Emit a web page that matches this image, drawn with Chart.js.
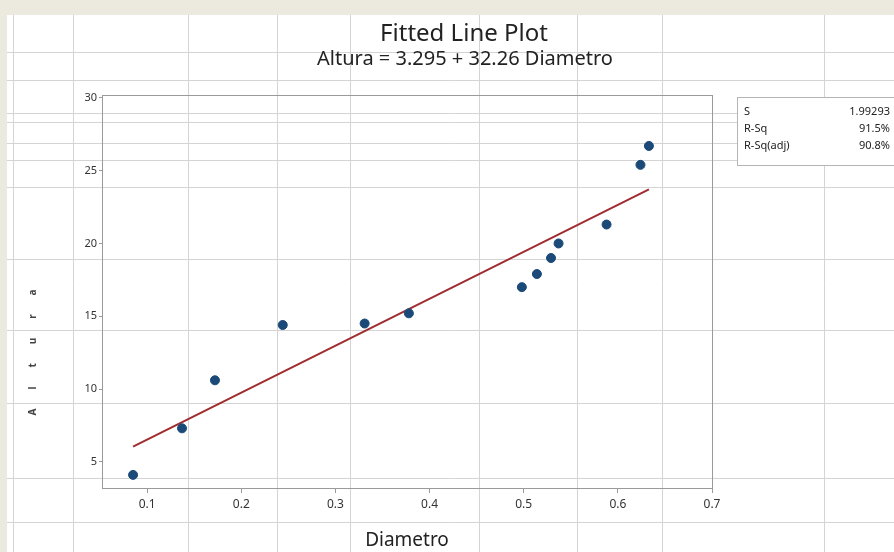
<!DOCTYPE html>
<html>
<head>
<meta charset="utf-8">
<script src="https://cdn.jsdelivr.net/npm/chart.js@4/dist/chart.umd.min.js"></script>
<style>
  html, body { margin: 0; padding: 0; background: #ece9de; }
  #wrap { width: 894px; height: 552px; }
</style>
</head>
<body>
<div id="wrap"><canvas id="fitChart" width="894" height="552"></canvas></div>
<script>
// Datos
const diametro = [0.085, 0.137, 0.172, 0.244, 0.331, 0.378, 0.498, 0.514, 0.529, 0.537, 0.588, 0.624, 0.633];
const altura = [4.1, 7.3, 10.6, 14.4, 14.5, 15.2, 17.0, 17.9, 19.0, 20.0, 21.3, 25.4, 26.7];

// Recta ajustada (extremos leidos)
const fitX = [0.085, 0.633];
const fitY = [6.04, 23.72];

const xTicks = [0.1, 0.2, 0.3, 0.4, 0.5, 0.6, 0.7];
const yTicks = [5, 10, 15, 20, 25, 30];

const statLabels = ['S', 'R-Sq', 'R-Sq(adj)'];
const statValues = ['1.99293', '91.5%', '90.8%'];

const titleText = 'Fitted Line Plot';
const subtitleText = 'Altura = 3.295 + 32.26 Diametro';
const yTitle = 'Altura';

// Lineas de la hoja de calculo de fondo (decoracion)
const sheetCols = [13, 73, 188, 277, 350, 479, 577, 662, 824];
const sheetRows = [52, 80, 113, 122, 143, 160, 187, 259, 330, 403, 478, 522];

const FONT = '"Noto Sans", "Open Sans", sans-serif';

const sheetPlugin = {
    id: 'sheet',
    beforeDraw(chart) {
        const c = chart.ctx;
        c.save();
        c.fillStyle = '#ece9de';
        c.fillRect(0, 0, chart.width, chart.height);
        c.fillStyle = '#ffffff';
        c.fillRect(7, 15, chart.width - 7, chart.height - 15);
        c.strokeStyle = '#d4d4d4';
        c.lineWidth = 1;
        sheetCols.forEach(x => {
            c.beginPath(); c.moveTo(x + 0.5, 15); c.lineTo(x + 0.5, chart.height); c.stroke();
        });
        sheetRows.forEach(y => {
            c.beginPath(); c.moveTo(7, y + 0.5); c.lineTo(chart.width, y + 0.5); c.stroke();
        });
        c.restore();
    },
    afterDraw(chart) {
        const c = chart.ctx;
        const a = chart.chartArea;
        c.save();
        // marco del area de trazado
        c.strokeStyle = '#9a9a9a';
        c.lineWidth = 1;
        c.strokeRect(a.left + 0.5, a.top + 0.5, a.right - a.left, a.bottom - a.top);

        // titulos
        c.fillStyle = '#222';
        c.textAlign = 'center';
        c.textBaseline = 'middle';
        c.font = '24px ' + FONT;
        c.fillText(titleText, 464, 34);
        c.font = '20px ' + FONT;
        c.fillText(subtitleText, 465, 59);

        // titulo eje y (muy pequeño y espaciado)
        c.save();
        c.translate(33, 353);
        c.rotate(-Math.PI / 2);
        c.letterSpacing = '19px';
        c.font = 'bold 10px ' + FONT;
        c.fillStyle = '#444';
        c.fillText(yTitle, 10, 0);
        c.restore();

        // cuadro de estadisticas
        c.fillStyle = '#ffffff';
        c.fillRect(737, 97, 160, 68);
        c.strokeStyle = '#b5b5b5';
        c.strokeRect(737.5, 97.5, 160, 68);
        c.font = '11px ' + FONT;
        c.fillStyle = '#222';
        c.textBaseline = 'middle';
        statLabels.forEach((lab, i) => {
            const y = 112 + i * 17;
            c.textAlign = 'left';
            c.fillText(lab, 744, y);
            c.textAlign = 'right';
            c.fillText(statValues[i], 890, y);
        });
        c.restore();
    }
};

const ctx = document.getElementById('fitChart').getContext('2d');
const chart = new Chart(ctx, {
    type: 'scatter',
    data: {
        datasets: [
            {
                type: 'line',
                data: fitX.map((x, i) => ({ x: x, y: fitY[i] })),
                borderColor: '#a02c30',
                borderWidth: 2,
                pointRadius: 0,
                fill: false,
                order: 2
            },
            {
                data: diametro.map((x, i) => ({ x: x, y: altura[i] })),
                backgroundColor: '#1b4a78',
                borderColor: '#1b4a78',
                pointRadius: 4.5,
                order: 1
            }
        ]
    },
    options: {
        responsive: false,
        animation: false,
        layout: { padding: { left: 72, top: 95, right: 182, bottom: 0 } },
        plugins: { legend: { display: false }, tooltip: { enabled: false } },
        scales: {
            x: {
                type: 'linear',
                min: 0.052,
                max: 0.7,
                afterBuildTicks: s => { s.ticks = xTicks.map(v => ({ value: v })); },
                afterFit: s => { s.height = 64; },
                grid: { drawOnChartArea: false, tickLength: 5, color: '#9a9a9a' },
                border: { color: '#9a9a9a' },
                ticks: {
                    padding: 4,
                    color: '#333',
                    font: { family: FONT, size: 12 },
                    callback: v => v.toFixed(1)
                },
                title: {
                    display: true,
                    text: 'Diametro',
                    color: '#222',
                    font: { family: FONT, size: 19 },
                    padding: { top: 0, bottom: 0 }
                }
            },
            y: {
                type: 'linear',
                min: 3.2,
                max: 30.2,
                afterBuildTicks: s => { s.ticks = yTicks.map(v => ({ value: v })); },
                afterFit: s => { s.width = 30; },
                grid: { drawOnChartArea: false, tickLength: 3, color: '#9a9a9a' },
                border: { color: '#9a9a9a' },
                ticks: {
                    padding: 2,
                    color: '#333',
                    font: { family: FONT, size: 11 },
                    callback: v => v
                }
            }
        }
    },
    plugins: [sheetPlugin]
});
</script>
</body>
</html>
